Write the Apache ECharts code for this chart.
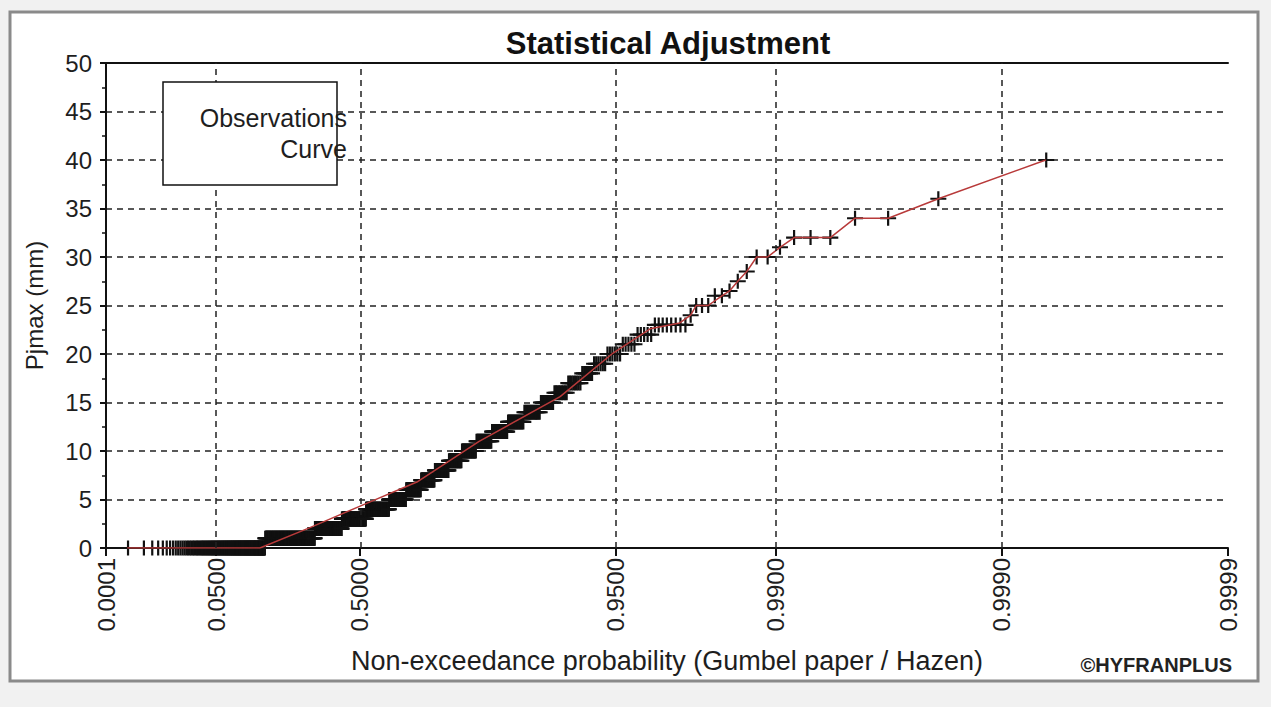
<!DOCTYPE html>
<html>
<head>
<meta charset="utf-8">
<script src="https://cdn.jsdelivr.net/npm/echarts@6/dist/echarts.min.js"></script>
<style>
  html, body { margin: 0; padding: 0; background: #f1f1f1; }
  #chart { width: 1271px; height: 707px; }
</style>
</head>
<body>
<div id="chart"></div>
<script>
// Observed Pjmax (mm): distinct values and how many times each one occurs
const obsValues = [0, 1, 2, 3, 4, 5, 6, 7, 8, 9, 10, 11, 12, 13, 14, 15, 16, 17, 18, 19, 20,
                   21, 22, 23, 24, 25, 26, 26.5, 27.5, 28.5, 30, 31, 32, 34, 36, 40];
const obsCounts = [127, 135, 79, 68, 60, 40, 32, 27, 25, 21, 21, 20, 18, 16, 14, 10, 9, 8, 6, 6, 6,
                   5, 5, 8, 1, 3, 2, 1, 1, 1, 2, 1, 3, 2, 1, 1];

// Adjusted curve: non-exceedance probability and Pjmax (mm)
const curveProb = [0.0006, 0.1467, 0.3156, 0.5070, 0.6785, 0.8140, 0.9138, 0.9488, 0.9646, 0.9737,
                   0.97643, 0.97771, 0.98025, 0.98280, 0.98408, 0.98535, 0.98662, 0.98790, 0.98917,
                   0.99045, 0.99172, 0.99427, 0.99554, 0.99682, 0.99809, 0.99936];
const curveValue = [0, 0, 2.1, 4.4, 6.8, 11.0, 15.6, 20.1, 22.6, 23.2,
                    24, 25, 25, 26, 26.5, 27.5, 28.5, 30, 30,
                    31, 32, 32, 34, 34, 36, 40];

// Probability ticks of the Gumbel paper
const probTicks = [0.0001, 0.05, 0.5, 0.95, 0.99, 0.999, 0.9999];
const probTickLabels = ['0.0001', '0.0500', '0.5000', '0.9500', '0.9900', '0.9990', '0.9999'];
const probGrid = [0.05, 0.5, 0.95, 0.99, 0.999];

// Gumbel reduced variate
const gumbel = p => -Math.log(-Math.log(p));

// Sorted sample with Hazen plotting positions (i - 0.5) / n
const sample = [];
obsValues.forEach((v, k) => { for (let j = 0; j < obsCounts[k]; j++) sample.push(v); });
const n = sample.length;
const obsData = sample.map((v, i) => [gumbel((i + 0.5) / n), v]);
const curveData = curveProb.map((p, i) => [gumbel(p), curveValue[i]]);

const tickPos = probTicks.map(gumbel);
const xMin = tickPos[0], xMax = tickPos[tickPos.length - 1];
const labelFor = v => {
  for (let i = 0; i < tickPos.length; i++) if (Math.abs(tickPos[i] - v) < 1e-6) return probTickLabels[i];
  return '';
};

const txt = '#1e1e1e';
const font = 'Liberation Sans, Arial, sans-serif';
const plus = 'path://M-1.1,-8H1.1V-1.1H8V1.1H1.1V8H-1.1V1.1H-8V-1.1H-1.1Z';

const chart = echarts.init(document.getElementById('chart'), null, { renderer: 'svg' });
chart.setOption({
  animation: false,
  backgroundColor: 'transparent',
  textStyle: { fontFamily: font },
  title: {
    text: 'Statistical Adjustment',
    left: 668, top: 28, textAlign: 'center', padding: 0,
    textStyle: { fontSize: 31, fontWeight: 'bold', color: '#111', fontFamily: font }
  },
  grid: { left: 106, right: 43, top: 63, bottom: 159 },
  xAxis: [{
    type: 'value', min: xMin, max: xMax,
    name: 'Non-exceedance probability (Gumbel paper / Hazen)',
    nameLocation: 'middle', nameGap: 99,
    nameTextStyle: { fontSize: 27, color: txt },
    axisLine: { onZero: false, lineStyle: { color: '#111', width: 2 } },
    axisTick: { customValues: tickPos, length: 8, lineStyle: { color: '#111', width: 2 } },
    axisLabel: { customValues: tickPos, formatter: labelFor, rotate: 90, margin: 10, fontSize: 24, color: txt },
    splitLine: { show: false }
  }, {
    type: 'value', position: 'top', min: xMin, max: xMax,
    axisLine: { show: true, onZero: false, lineStyle: { color: '#111', width: 2 } },
    axisTick: { show: false }, axisLabel: { show: false }, splitLine: { show: false }
  }],
  yAxis: {
    type: 'value', min: 0, max: 50, interval: 5,
    name: 'Pjmax (mm)', nameLocation: 'middle', nameGap: 60,
    nameTextStyle: { fontSize: 24, color: txt },
    axisLine: { show: true, onZero: false, lineStyle: { color: '#111', width: 2 } },
    axisTick: { show: true, length: 6, lineStyle: { color: '#111', width: 2 } },
    minorTick: { show: true, splitNumber: 2, length: 4, lineStyle: { color: '#111', width: 1.5 } },
    axisLabel: { fontSize: 24, color: txt, margin: 14 },
    splitLine: { show: true, lineStyle: { color: '#222', width: 1.5, type: [6, 5] } }
  },
  series: [{
    name: 'Observations', type: 'scatter', data: obsData,
    symbol: plus, symbolSize: [16, 15],
    itemStyle: { color: '#111', opacity: 1 },
    z: 3,
    markLine: {
      silent: true, symbol: ['none', 'none'], label: { show: false },
      lineStyle: { color: '#222', width: 1.5, type: [6, 5] },
      data: probGrid.map(p => ({ xAxis: gumbel(p) }))
    }
  }, {
    name: 'Curve', type: 'line', data: curveData,
    showSymbol: false, symbol: 'none',
    lineStyle: { color: '#b83a3a', width: 1.5 },
    z: 4
  }],
  graphic: [{
    type: 'rect', z: -10, silent: true,
    shape: { x: 10, y: 12, width: 1248, height: 669 },
    style: { fill: '#ffffff', stroke: '#8a8a8a', lineWidth: 3 }
  }, {
    type: 'rect', z: 100, silent: true,
    shape: { x: 163, y: 82, width: 174, height: 103 },
    style: { fill: '#ffffff', stroke: '#111', lineWidth: 1.5 }
  }, {
    type: 'text', z: 101, silent: true,
    style: { x: 347, y: 118, text: 'Observations', align: 'right', verticalAlign: 'middle',
             fontSize: 25, fontFamily: font, fill: txt }
  }, {
    type: 'text', z: 101, silent: true,
    style: { x: 347, y: 149, text: 'Curve', align: 'right', verticalAlign: 'middle',
             fontSize: 25, fontFamily: font, fill: txt }
  }, {
    type: 'text', z: 101, silent: true,
    style: { x: 1232, y: 665, text: '©HYFRANPLUS', align: 'right', verticalAlign: 'middle',
             fontSize: 20, fontWeight: 'bold', fontFamily: font, fill: '#222' }
  }]
});
</script>
</body>
</html>
